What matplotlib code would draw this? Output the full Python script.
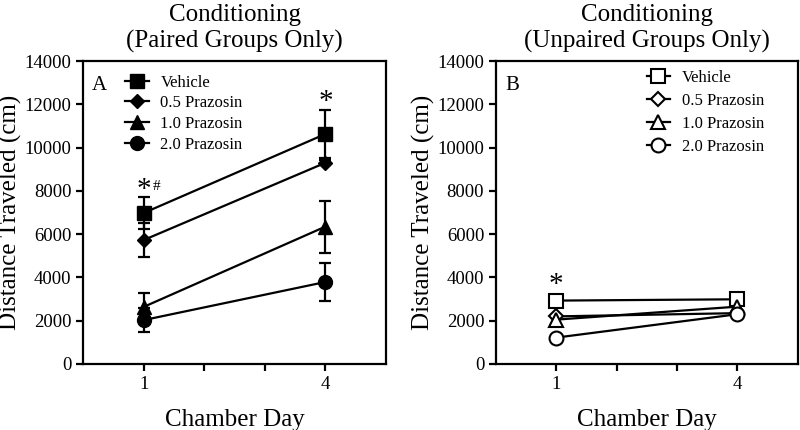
import matplotlib.pyplot as plt
from matplotlib.lines import Line2D
import numpy as np

plt.rcParams['font.family'] = ['Liberation Serif', 'DejaVu Serif']

days = [1, 4]
groups = ['Vehicle', '0.5 Prazosin', '1.0 Prazosin', '2.0 Prazosin']
markers = ['s', 'D', '^', 'o']
msizes = [10, 7, 10, 10]

# paired groups (panel A), mean and SEM
paired_mean = [[6980, 10630], [5730, 9300], [2640, 6350], [2030, 3790]]
paired_sem = [[740, 1100], [780, 120], [650, 1200], [550, 880]]

# unpaired groups (panel B)
unpaired_mean = [[2930, 2990], [2200, 2350], [2050, 2650], [1220, 2300]]

fig = plt.figure(figsize=(8, 4.3), dpi=100)
axA = fig.add_axes([0.104, 0.1535, 0.3785, 0.7045])
axB = fig.add_axes([0.620, 0.1535, 0.3770, 0.7045])


def style_axis(ax, title, letter):
  ax.set_xlim(0, 5)
  ax.set_ylim(0, 14000)
  ax.set_xticks([1, 2, 3, 4])
  ax.set_xticklabels(['1', '', '', '4'])
  ax.set_yticks(np.arange(0, 14001, 2000))
  for s in ax.spines.values():
    s.set_linewidth(1.6)
  ax.tick_params(direction='out', width=1.6, length=5, labelsize=13.5)
  ax.set_xlabel('Chamber Day', fontsize=18, labelpad=12)
  ax.set_ylabel('Distance Traveled (cm)', fontsize=18, labelpad=2)
  ax.set_title(title, fontsize=18, linespacing=1.2, pad=10)
  ax.text(0.03, 0.92, letter, transform=ax.transAxes, fontsize=15,
          ha='left', va='center')


for i, g in enumerate(groups):
  axA.errorbar(days, paired_mean[i], yerr=paired_sem[i], color='black',
               marker=markers[i], markersize=msizes[i], linewidth=1.6,
               elinewidth=1.6, capsize=4.5, capthick=1.6,
               markerfacecolor='black')
  axB.plot(days, unpaired_mean[i], color='black', marker=markers[i],
           markersize=msizes[i], linewidth=1.6, markerfacecolor='white',
           markeredgewidth=1.5)

style_axis(axA, 'Conditioning\n(Paired Groups Only)', 'A')
style_axis(axB, 'Conditioning\n(Unpaired Groups Only)', 'B')

axA.text(1, paired_mean[0][0] + 450, '*', fontsize=21, ha='center', va='bottom')
axA.text(1.15, paired_mean[0][0] + 920, '#', fontsize=11, ha='left', va='bottom')
axA.text(4, paired_mean[0][1] + 900, '*', fontsize=21, ha='center', va='bottom')
axB.text(1, unpaired_mean[0][0] + 100, '*', fontsize=21, ha='center', va='bottom')

hA = [Line2D([], [], color='black', marker=markers[i], markersize=msizes[i],
             linewidth=1.6, markerfacecolor='black') for i in range(4)]
hB = [Line2D([], [], color='black', marker=markers[i], markersize=msizes[i],
             linewidth=1.6, markerfacecolor='white', markeredgewidth=1.5)
      for i in range(4)]
axA.legend(hA, groups, loc='upper left', bbox_to_anchor=(0.09, 1.005),
           frameon=False, fontsize=12, handlelength=1.4, handletextpad=0.7,
           labelspacing=0.28)
axB.legend(hB, groups, loc='upper left', bbox_to_anchor=(0.45, 1.02),
           frameon=False, fontsize=12, handlelength=1.4, handletextpad=0.7,
           labelspacing=0.42)

fig.savefig('out.png', dpi=100)
